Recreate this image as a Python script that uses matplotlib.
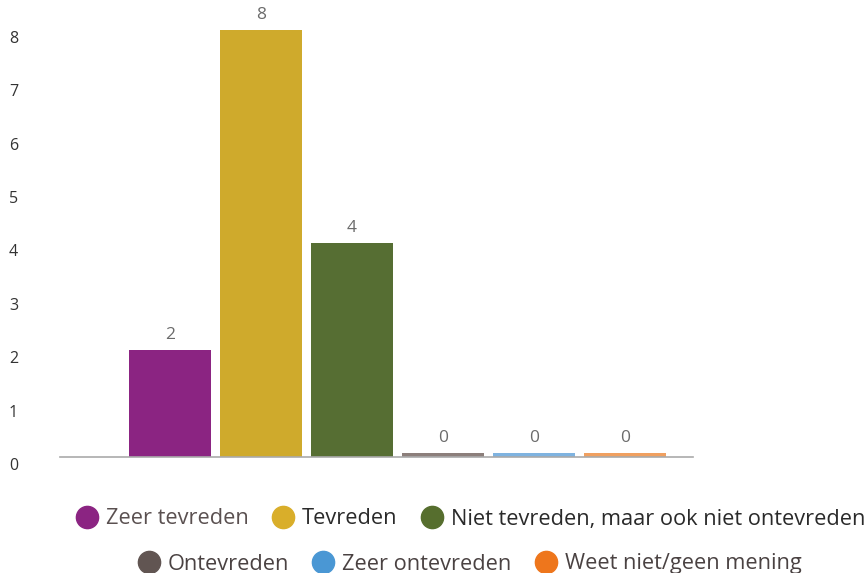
import matplotlib
matplotlib.use("Agg")
import matplotlib.pyplot as plt
from matplotlib.lines import Line2D
from matplotlib.transforms import ScaledTranslation

categories = ["Zeer tevreden", "Tevreden", "Niet tevreden, maar ook niet ontevreden",
              "Ontevreden", "Zeer ontevreden", "Weet niet/geen mening"]
values = [2, 8, 4, 0, 0, 0]
bar_colors = ["#8B2482", "#CFAA2C", "#566E33", "#8C7F7B", "#7FB3E0", "#F0A060"]
legend_colors = ["#8B2482", "#D9AE2A", "#566E2E", "#615552", "#4A97D4", "#EE761C"]
legend_text_colors = ["#5a5050", "#2a2a2a", "#2a2a2a", "#4a4242", "#4a4242", "#4a4242"]
yticks = list(range(0, 9))

plt.rcParams['font.family'] = ['Open Sans', 'DejaVu Sans']

fig = plt.figure(figsize=(8.66, 5.73), dpi=100)
ax = fig.add_axes([60/866, (573-457)/573, (693-60)/866, 8.5*53.4/573])

x = list(range(len(values)))
# zero values still get a thin visible sliver, like the original
heights = [v if v > 0 else 0.075 for v in values]
ax.bar(x, heights, width=0.9, color=bar_colors, zorder=2)
for xi, v, h in zip(x, values, heights):
    ax.annotate(str(v), (xi, h), xytext=(0, 5), textcoords="offset points",
                ha="center", va="bottom", fontsize=12.5, color="#6b6b6b")

ax.set_xlim(-1.21, 5.75)
ax.set_ylim(0, 8.5)
ax.set_xticks([])
ax.set_yticks(yticks)
ax.set_yticklabels([str(t) for t in yticks], fontsize=11.5, color="#333333")
ax.tick_params(axis="y", length=0, pad=0)
off = ScaledTranslation(-51/100, -7/100, fig.dpi_scale_trans)
for lab in ax.get_yticklabels():
    lab.set_transform(lab.get_transform() + off)
    lab.set_ha("left")

for s in ["top", "right", "left"]:
    ax.spines[s].set_visible(False)
ax.spines["bottom"].set_color("#aaaaaa")
ax.spines["bottom"].set_linewidth(1.2)

handles = [Line2D([0], [0], marker="o", linestyle="", markersize=16,
                  markerfacecolor=c, markeredgecolor=c) for c in legend_colors]

leg_kw = dict(ncol=3, frameon=False, fontsize=15.7, handletextpad=0.3,
              columnspacing=1.05, handlelength=1.1)
leg1 = fig.legend(handles[:3], categories[:3], loc="center",
                  bbox_to_anchor=(470/866, 1 - 519/573), **leg_kw)
for t, c in zip(leg1.get_texts(), legend_text_colors[:3]):
    t.set_color(c)
leg2 = fig.legend(handles[3:], categories[3:], loc="center",
                  bbox_to_anchor=(469/866, 1 - 564/573), **leg_kw)
for t, c in zip(leg2.get_texts(), legend_text_colors[3:]):
    t.set_color(c)

fig.savefig("out.png", dpi=100)
